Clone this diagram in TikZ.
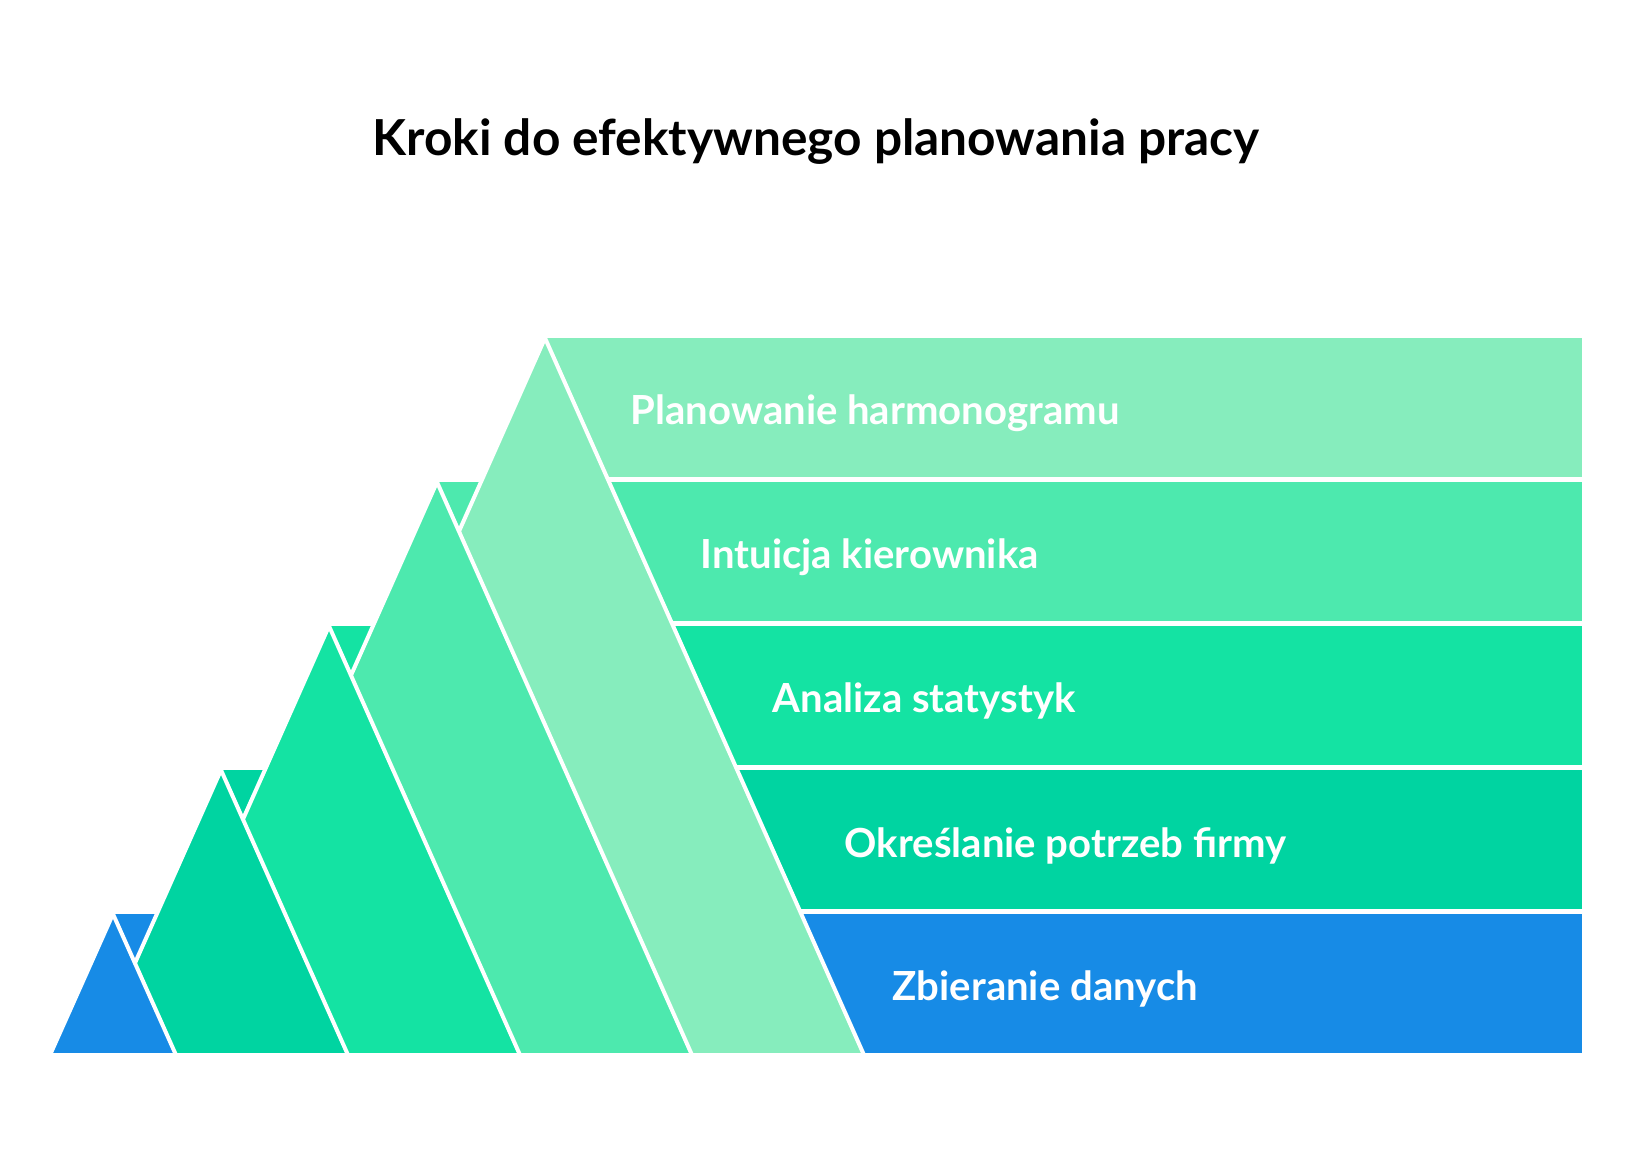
\documentclass[tikz,border=0pt]{standalone}
\usepackage{fontspec}
\setmainfont{Lato}
\definecolor{cA}{HTML}{86EDBD}
\definecolor{cB}{HTML}{4DE9AE}
\definecolor{cC}{HTML}{14E3A3}
\definecolor{cD}{HTML}{00D4A1}
\definecolor{cE}{HTML}{178BE6}
\begin{document}
\begin{tikzpicture}[x=0.01cm,y=-0.01cm,
  tri/.style={draw=white, line width=0.04cm, line join=miter},
  lbl/.style={anchor=base west, text=white, inner sep=0pt, font=\fontsize{11.4}{13}\selectfont\bfseries},
  ttl/.style={anchor=base, text=black, inner sep=0pt, font=\fontsize{14.1}{17}\selectfont\bfseries}]
\useasboundingbox (0,0) rectangle (1633,1153);
% bands
\fill[cA] (545,338) rectangle (1582,477);
\fill[cB] (437,482) rectangle (1582,621);
\fill[cC] (329,626) rectangle (1582,765);
\fill[cD] (221,770) rectangle (1582,909);
\fill[cE] (113,914) rectangle (1582,1053);
% triangles, largest at back
\filldraw[tri, fill=cA] (545,338) -- ++(319,717) -- ++(-638,0) -- cycle;
\filldraw[tri, fill=cB] (437,482) -- ++(255,573) -- ++(-510,0) -- cycle;
\filldraw[tri, fill=cC] (329,626) -- ++(191,429) -- ++(-382,0) -- cycle;
\filldraw[tri, fill=cD] (221,770) -- ++(127,285) -- ++(-254,0) -- cycle;
\filldraw[tri, fill=cE] (113,914) -- ++(63,141) -- ++(-126,0) -- cycle;
% labels
\node[lbl] (l0) at (630,424) {Planowanie harmonogramu};
\node[lbl] (l1) at (700,568) {Intuicja kierownika};
\node[lbl] (l2) at (772,712) {Analiza statystyk};
\node[lbl] (l3) at (844,857) {Określanie potrzeb firmy};
\node[lbl] (l4) at (892,1000) {Zbieranie danych};
\node[ttl] (title) at (816,155) {Kroki do efektywnego planowania pracy};
\end{tikzpicture}
\end{document}
